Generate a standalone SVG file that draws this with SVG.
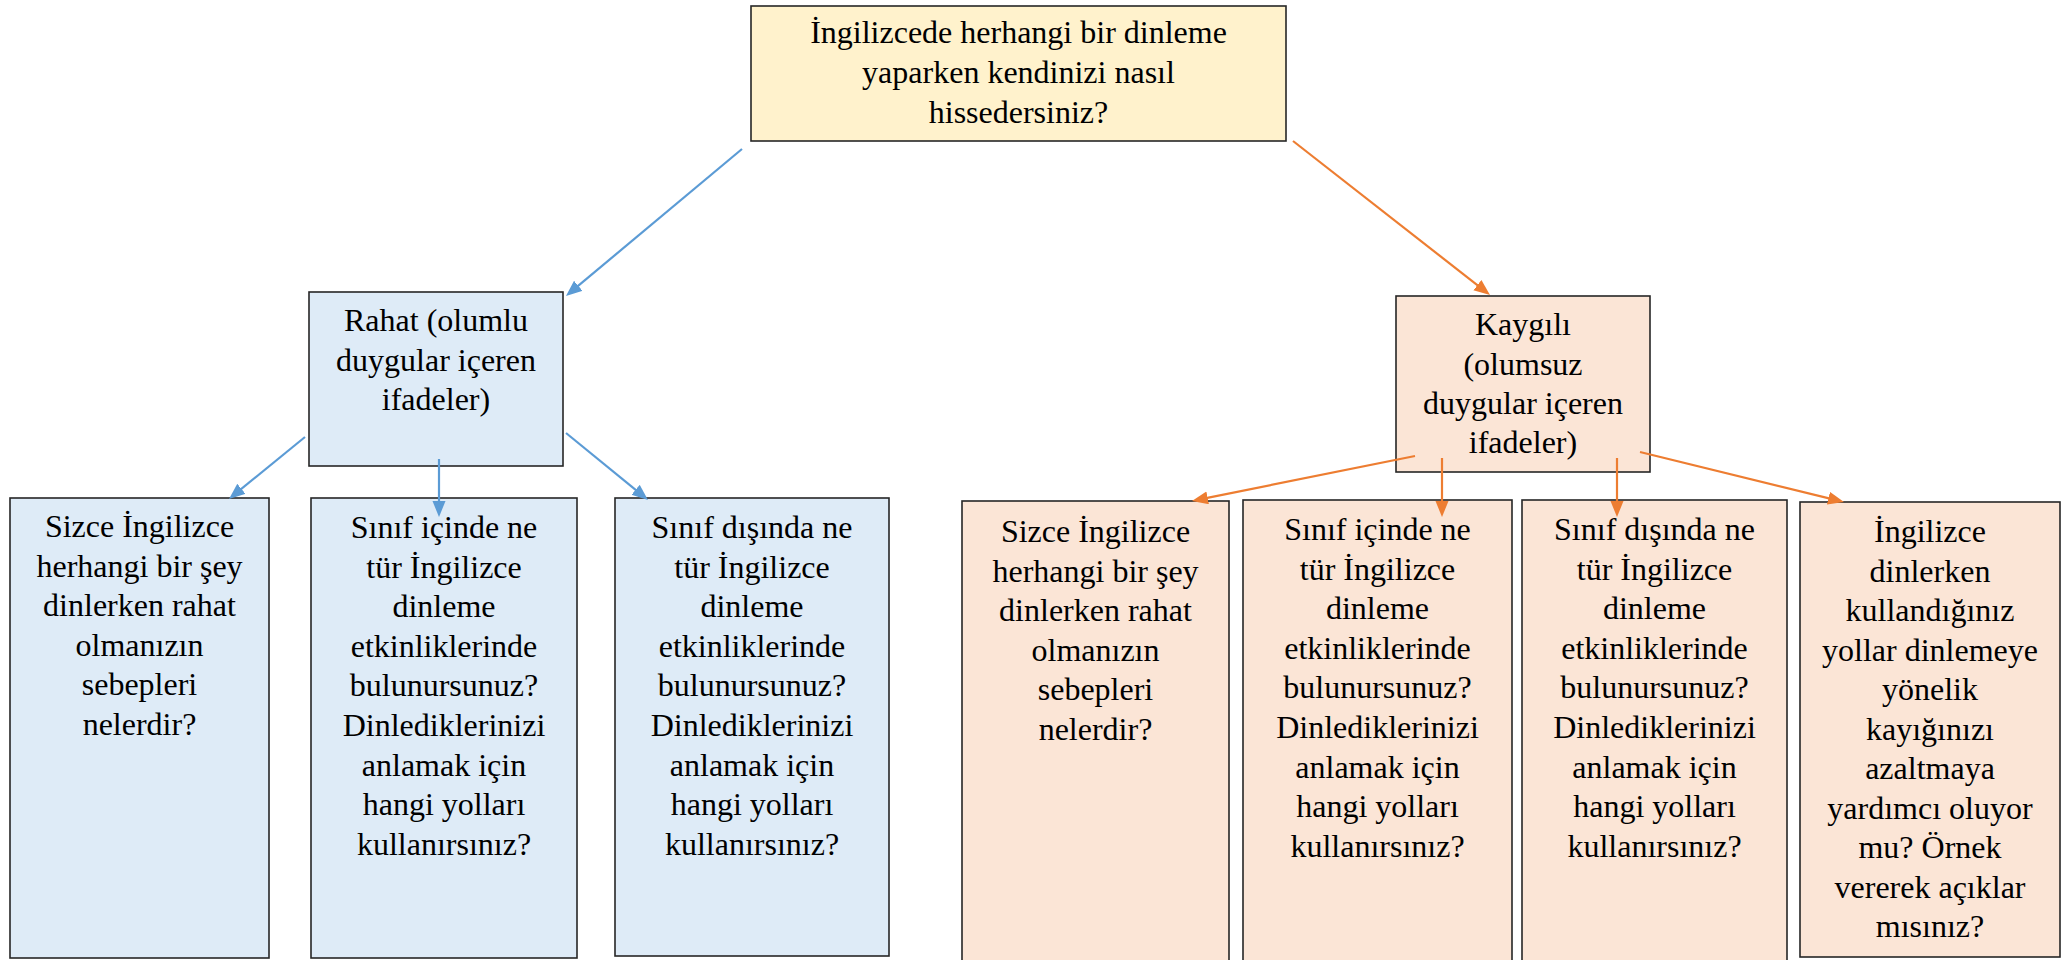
<svg xmlns="http://www.w3.org/2000/svg" width="2069" height="960" viewBox="0 0 2069 960">
<style>
.box{stroke:#262626;stroke-width:1.6}
.top{fill:#FFF2CC}
.pos{fill:#DEEBF7}
.neg{fill:#FBE5D6}
text{font-family:"Liberation Serif","Times New Roman",serif;font-size:32px;fill:#000;text-anchor:middle}
.cb{stroke:#5B9BD5;stroke-width:2.2;fill:none;marker-end:url(#ab)}
.co{stroke:#ED7D31;stroke-width:2.2;fill:none;marker-end:url(#ao)}
</style>
<defs>
<marker id="ab" markerUnits="userSpaceOnUse" markerWidth="17" markerHeight="14" refX="8" refY="6.5" orient="auto"><path d="M0,0 L16,6.5 L0,13 z" fill="#5B9BD5"/></marker>
<marker id="ao" markerUnits="userSpaceOnUse" markerWidth="17" markerHeight="14" refX="8" refY="6.5" orient="auto"><path d="M0,0 L16,6.5 L0,13 z" fill="#ED7D31"/></marker>
</defs>
<rect width="2069" height="960" fill="#fff"/>
<g id="root">
<rect class="box top" x="751" y="6" width="535" height="135"/>
<text x="1018.5" y="43">İngilizcede herhangi bir dinleme</text>
<text x="1018.5" y="83">yaparken kendinizi nasıl</text>
<text x="1018.5" y="123">hissedersiniz?</text>
</g>
<g id="rahat">
<rect class="box pos" x="309" y="292" width="254" height="174"/>
<text x="436" y="331">Rahat (olumlu</text>
<text x="436" y="371">duygular içeren</text>
<text x="436" y="410">ifadeler)</text>
</g>
<g id="kaygili">
<rect class="box neg" x="1396" y="296" width="254" height="176"/>
<text x="1523" y="335">Kaygılı</text>
<text x="1523" y="375">(olumsuz</text>
<text x="1523" y="414">duygular içeren</text>
<text x="1523" y="453">ifadeler)</text>
</g>
<g id="pos1">
<rect class="box pos" x="10" y="498" width="259" height="460"/>
<text x="139.5" y="537">Sizce İngilizce</text>
<text x="139.5" y="576.6">herhangi bir şey</text>
<text x="139.5" y="616.2">dinlerken rahat</text>
<text x="139.5" y="655.8">olmanızın</text>
<text x="139.5" y="695.4">sebepleri</text>
<text x="139.5" y="735">nelerdir?</text>
</g>
<g id="pos2">
<rect class="box pos" x="311" y="498" width="266" height="460"/>
<text x="444" y="538">Sınıf içinde ne</text>
<text x="444" y="577.6">tür İngilizce</text>
<text x="444" y="617.2">dinleme</text>
<text x="444" y="656.8">etkinliklerinde</text>
<text x="444" y="696.4">bulunursunuz?</text>
<text x="444" y="736">Dinlediklerinizi</text>
<text x="444" y="775.6">anlamak için</text>
<text x="444" y="815.2">hangi yolları</text>
<text x="444" y="854.8">kullanırsınız?</text>
</g>
<g id="pos3">
<rect class="box pos" x="615" y="498" width="274" height="458"/>
<text x="752" y="538">Sınıf dışında ne</text>
<text x="752" y="577.6">tür İngilizce</text>
<text x="752" y="617.2">dinleme</text>
<text x="752" y="656.8">etkinliklerinde</text>
<text x="752" y="696.4">bulunursunuz?</text>
<text x="752" y="736">Dinlediklerinizi</text>
<text x="752" y="775.6">anlamak için</text>
<text x="752" y="815.2">hangi yolları</text>
<text x="752" y="854.8">kullanırsınız?</text>
</g>
<g id="neg1">
<rect class="box neg" x="962" y="501" width="267" height="462"/>
<text x="1095.5" y="542">Sizce İngilizce</text>
<text x="1095.5" y="581.6">herhangi bir şey</text>
<text x="1095.5" y="621.2">dinlerken rahat</text>
<text x="1095.5" y="660.8">olmanızın</text>
<text x="1095.5" y="700.4">sebepleri</text>
<text x="1095.5" y="740">nelerdir?</text>
</g>
<g id="neg2">
<rect class="box neg" x="1243" y="500" width="269" height="463"/>
<text x="1377.5" y="540">Sınıf içinde ne</text>
<text x="1377.5" y="579.6">tür İngilizce</text>
<text x="1377.5" y="619.2">dinleme</text>
<text x="1377.5" y="658.8">etkinliklerinde</text>
<text x="1377.5" y="698.4">bulunursunuz?</text>
<text x="1377.5" y="738">Dinlediklerinizi</text>
<text x="1377.5" y="777.6">anlamak için</text>
<text x="1377.5" y="817.2">hangi yolları</text>
<text x="1377.5" y="856.8">kullanırsınız?</text>
</g>
<g id="neg3">
<rect class="box neg" x="1522" y="500" width="265" height="463"/>
<text x="1654.5" y="540">Sınıf dışında ne</text>
<text x="1654.5" y="579.6">tür İngilizce</text>
<text x="1654.5" y="619.2">dinleme</text>
<text x="1654.5" y="658.8">etkinliklerinde</text>
<text x="1654.5" y="698.4">bulunursunuz?</text>
<text x="1654.5" y="738">Dinlediklerinizi</text>
<text x="1654.5" y="777.6">anlamak için</text>
<text x="1654.5" y="817.2">hangi yolları</text>
<text x="1654.5" y="856.8">kullanırsınız?</text>
</g>
<g id="neg4">
<rect class="box neg" x="1800" y="502" width="260" height="455"/>
<text x="1930" y="542">İngilizce</text>
<text x="1930" y="581.5">dinlerken</text>
<text x="1930" y="621">kullandığınız</text>
<text x="1930" y="660.5">yollar dinlemeye</text>
<text x="1930" y="700">yönelik</text>
<text x="1930" y="739.5">kayığınızı</text>
<text x="1930" y="779">azaltmaya</text>
<text x="1930" y="818.5">yardımcı oluyor</text>
<text x="1930" y="858">mu? Örnek</text>
<text x="1930" y="897.5">vererek açıklar</text>
<text x="1930" y="937">mısınız?</text>
</g>
<g id="connectors">
<line class="cb" x1="742" y1="149" x2="572.1" y2="290.9"/>
<line class="co" x1="1293" y1="141" x2="1483.7" y2="290.1"/>
<line class="cb" x1="305" y1="437" x2="235.2" y2="493.9"/>
<line class="cb" x1="439" y1="459" x2="439" y2="509"/>
<line class="cb" x1="566" y1="433" x2="641.8" y2="494.9"/>
<line class="co" x1="1415" y1="456" x2="1199.8" y2="499.4"/>
<line class="co" x1="1442" y1="458" x2="1442" y2="509"/>
<line class="co" x1="1617" y1="458" x2="1617" y2="509"/>
<line class="co" x1="1640" y1="452" x2="1836.2" y2="500.1"/>
</g>
</svg>
